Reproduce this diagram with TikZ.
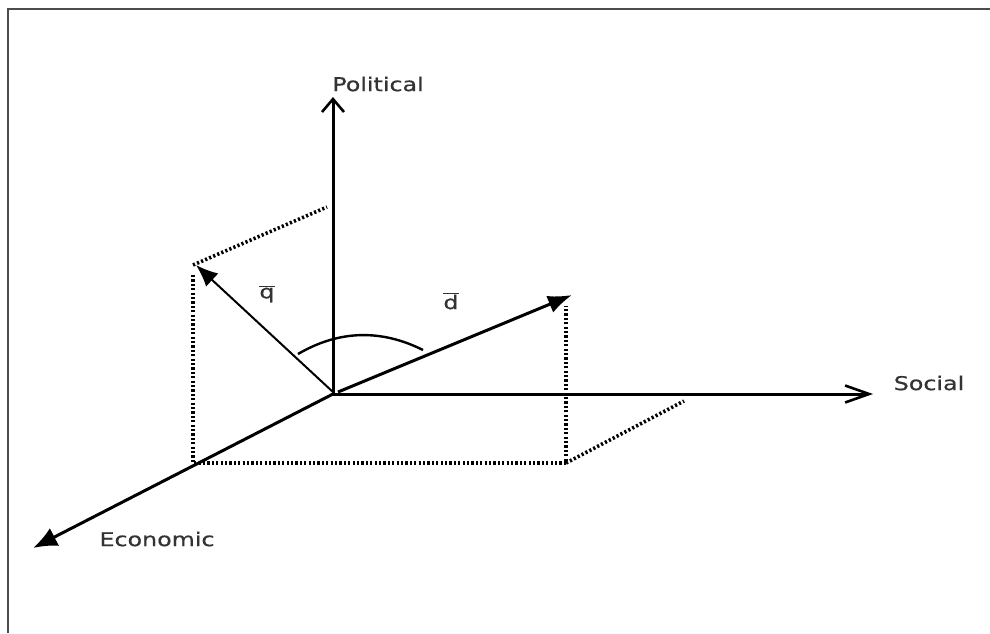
\documentclass[tikz,border=0pt]{standalone}
\usepackage{fontspec}
\newfontfamily\lab[FakeStretch=1.25,FakeBold=0.6]{DejaVu Sans}
\usetikzlibrary{arrows.meta}
\begin{document}
\begin{tikzpicture}[x=1pt,y=-1pt,
  axis/.style={line width=3pt},
  vec/.style={line width=3pt,-{Latex[length=24pt,width=18pt]}},
  thinvec/.style={line width=2pt,-{Latex[length=22pt,width=18pt]}},
  proj/.style={line width=3.6pt,dash pattern=on 2.2pt off 2.2pt},
  lbl/.style={inner sep=0pt,font=\lab\fontsize{19}{21}\selectfont,text=black!80}]
\useasboundingbox (0,0) rectangle (990,633);
\draw[line width=2pt,black!70] (8,633) -- (8,9) -- (990,9);
% coordinates
\coordinate (O) at (333,394);
\coordinate (P) at (333,97);
\coordinate (S) at (873,394);
\coordinate (E) at (33,548);
\coordinate (ds) at (338,392);
\coordinate (dt) at (572,295);
\coordinate (qs) at (333,392);
\coordinate (qt) at (196,265);
\coordinate (qa) at (193,265);
\coordinate (qb) at (327,207);
\coordinate (qc) at (193,275);
\coordinate (bl) at (193,463);
\coordinate (br) at (566,463);
\coordinate (dv) at (566,306);
\coordinate (sr) at (684,401);
\coordinate (a1) at (298,354);
\coordinate (a2) at (423,350);
\coordinate (c1) at (339,330);
\coordinate (c2) at (381,329);
% projections
\draw[proj] (qa) -- (qb);
\draw[proj] (qc) -- (bl) -- (br) -- (dv);
\draw[proj] (br) -- (sr);
% axes
\draw[axis,-{Straight Barb[length=13pt,width=22pt,line width=2.6pt]}] (O) -- (P);
\draw[axis,-{Straight Barb[length=24pt,width=17pt,line width=2.6pt]}] (O) -- (S);
\draw[axis,-{Latex[length=24pt,width=20pt]}] (O) -- (E);
% vectors
\draw[vec] (ds) -- (dt);
\draw[thinvec] (qs) -- (qt);
% arc
\draw[line width=2.4pt] (a1) .. controls (c1) and (c2) .. (a2);
% labels
\node[lbl] (pol) at (378,84) {Political};
\node[lbl] (soc) at (929,383) {Social};
\node[lbl] (eco) at (157,539) {Economic};
\node[lbl] (q) at (267,294) {$\overline{\hbox{\lab q}}$};
\node[lbl] (d) at (451,301) {$\overline{\hbox{\lab d}}$};
\end{tikzpicture}
\end{document}
